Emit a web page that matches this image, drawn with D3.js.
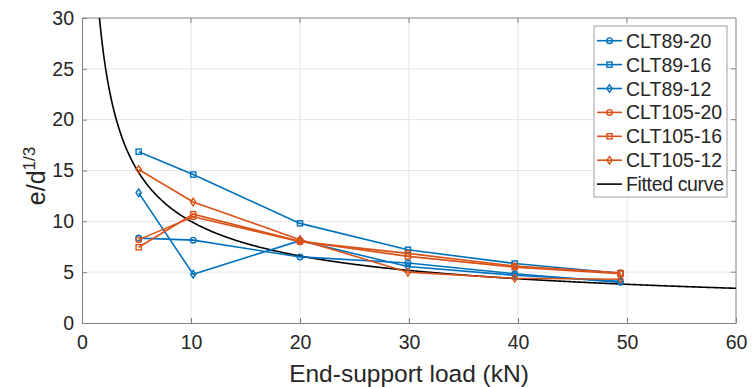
<!DOCTYPE html>
<html>
<head>
<meta charset="utf-8">
<script src="https://cdn.jsdelivr.net/npm/d3@7"></script>
<style>
  body { margin: 0; background: #fff; }
  text { font-family: "Liberation Sans", Arial, sans-serif; fill: #262626; }
</style>
</head>
<body>
<div id="chart"></div>
<script>
// load values
const loads = [5.2, 10.2, 20, 29.9, 39.7, 49.4];

const clt89_20 = [8.35, 8.15, 6.5, 5.9, 4.85, 4.0];
const clt89_16 = [16.85, 14.6, 9.8, 7.2, 5.85, 4.9];
const clt89_12 = [12.8, 4.8, 8.1, 5.55, 4.7, 4.1];
const clt105_20 = [8.2, 10.45, 8.0, 6.85, 5.6, 4.95];
const clt105_16 = [7.45, 10.7, 8.05, 6.55, 5.5, 4.85];
const clt105_12 = [15.1, 11.9, 8.2, 5.0, 4.4, 4.3];

const seriesNames = ["CLT89-20", "CLT89-16", "CLT89-12", "CLT105-20", "CLT105-16", "CLT105-12"];
const seriesValues = [clt89_20, clt89_16, clt89_12, clt105_20, clt105_16, clt105_12];
const seriesMarkers = ["circle", "square", "diamond", "circle", "square", "diamond"];

// fitted curve  y = a * x^b
const fitA = 39.8, fitB = -0.6;

const xTicks = [0, 10, 20, 30, 40, 50, 60];
const yTicks = [0, 5, 10, 15, 20, 25, 30];

const width = 753, height = 387;
const margin = {left: 82, right: 17, top: 18, bottom: 64};

const svg = d3.select("#chart").append("svg")
  .attr("width", width)
  .attr("height", height);

const x = d3.scaleLinear().domain([0, 60]).range([margin.left, width - margin.right]);
const y = d3.scaleLinear().domain([0, 30]).range([height - margin.bottom, margin.top]);

const blue = "#0072BD", orange = "#D95319";
const color = i => i < 3 ? blue : orange;

// grid
svg.append("g").selectAll("line.gx")
  .data(xTicks.slice(1, -1))
  .enter().append("line")
    .attr("x1", d => x(d)).attr("x2", d => x(d))
    .attr("y1", y(0)).attr("y2", y(30))
    .attr("stroke", "#e5e5e5");
svg.append("g").selectAll("line.gy")
  .data(yTicks.slice(1, -1))
  .enter().append("line")
    .attr("x1", x(0)).attr("x2", x(60))
    .attr("y1", d => y(d)).attr("y2", d => y(d))
    .attr("stroke", "#e5e5e5");

// axes
const xAxis = svg.append("g")
  .attr("transform", `translate(0,${y(0)})`)
  .call(d3.axisBottom(x).tickValues(xTicks).tickSizeInner(-5).tickSizeOuter(0).tickPadding(12));
const yAxis = svg.append("g")
  .attr("transform", `translate(${x(0)},0)`)
  .call(d3.axisLeft(y).tickValues(yTicks).tickSizeInner(-5).tickSizeOuter(0).tickPadding(8));
[xAxis, yAxis].forEach(g => {
  g.select(".domain").attr("stroke", "#808080");
  g.selectAll(".tick line").attr("stroke", "#808080");
  g.selectAll(".tick text").attr("font-size", 19.5).attr("fill", "#262626")
    .attr("font-family", "'Liberation Sans', Arial, sans-serif");
});
// box top/right
svg.append("path")
  .attr("d", `M${x(0)},${y(30)}H${x(60)}V${y(0)}`)
  .attr("fill", "none").attr("stroke", "#808080");
// right and top ticks
svg.append("g").selectAll("line")
  .data(yTicks.slice(1, -1))
  .enter().append("line")
    .attr("x1", x(60)).attr("x2", x(60) - 5)
    .attr("y1", d => y(d)).attr("y2", d => y(d))
    .attr("stroke", "#808080");
svg.append("g").selectAll("line")
  .data(xTicks.slice(1, -1))
  .enter().append("line")
    .attr("x1", d => x(d)).attr("x2", d => x(d))
    .attr("y1", y(30)).attr("y2", y(30) + 5)
    .attr("stroke", "#808080");

// labels
svg.append("text")
  .attr("x", (x(0) + x(60)) / 2)
  .attr("y", 382)
  .attr("text-anchor", "middle")
  .attr("font-size", 24.5)
  .text("End-support load (kN)");

const yl = svg.append("text")
  .attr("transform", `translate(45,${176}) rotate(-90)`)
  .attr("text-anchor", "middle")
  .attr("font-size", 25);
yl.append("tspan").text("e/d");
yl.append("tspan").attr("font-size", 17).attr("dy", -10).text("1/3");

// clip
svg.append("clipPath").attr("id", "clip")
  .append("rect")
    .attr("x", x(0)).attr("y", y(30))
    .attr("width", x(60) - x(0)).attr("height", y(0) - y(30));

const line = d3.line().x(d => x(d[0])).y(d => y(d[1]));

// fitted curve
const fitX = d3.range(1.5, 60.01, 0.1);
svg.append("path")
  .attr("clip-path", "url(#clip)")
  .attr("d", line(fitX.map(v => [v, fitA * Math.pow(v, fitB)])))
  .attr("fill", "none")
  .attr("stroke", "black")
  .attr("stroke-width", 1.6);

function marker(g, type, cx, cy, c) {
  if (type === "circle") {
    g.append("circle").attr("cx", cx).attr("cy", cy).attr("r", 2.8)
      .attr("fill", "none").attr("stroke", c).attr("stroke-width", 1.4);
  } else if (type === "square") {
    g.append("rect").attr("x", cx - 2.6).attr("y", cy - 2.6).attr("width", 5.2).attr("height", 5.2)
      .attr("fill", "none").attr("stroke", c).attr("stroke-width", 1.4);
  } else {
    g.append("path").attr("d", `M${cx},${cy - 3.8}L${cx + 2.6},${cy}L${cx},${cy + 3.8}L${cx - 2.6},${cy}Z`)
      .attr("fill", "none").attr("stroke", c).attr("stroke-width", 1.4);
  }
}

seriesValues.forEach((vals, i) => {
  const g = svg.append("g");
  g.append("path")
    .attr("d", line(loads.map((l, k) => [l, vals[k]])))
    .attr("fill", "none")
    .attr("stroke", color(i))
    .attr("stroke-width", 1.6);
  loads.forEach((l, k) => marker(g, seriesMarkers[i], x(l), y(vals[k]), color(i)));
});

// legend
const lg = svg.append("g").attr("transform", "translate(594,26)");
lg.append("rect").attr("width", 133).attr("height", 171)
  .attr("fill", "white").attr("stroke", "#a0a0a0");
const legendItems = seriesNames.concat(["Fitted curve"]);
legendItems.forEach((name, i) => {
  const cy = 14.7 + i * 23.9;
  const c = i < 6 ? color(i) : "black";
  lg.append("line").attr("x1", 3).attr("x2", 28).attr("y1", cy).attr("y2", cy)
    .attr("stroke", c).attr("stroke-width", 1.6);
  if (i < 6) marker(lg, seriesMarkers[i], 15.5, cy, c);
  lg.append("text").attr("x", 32).attr("y", cy + 7)
    .attr("font-size", 19.5).attr("textLength", name === "Fitted curve" ? 98 : null)
    .text(name);
});
</script>
</body>
</html>
